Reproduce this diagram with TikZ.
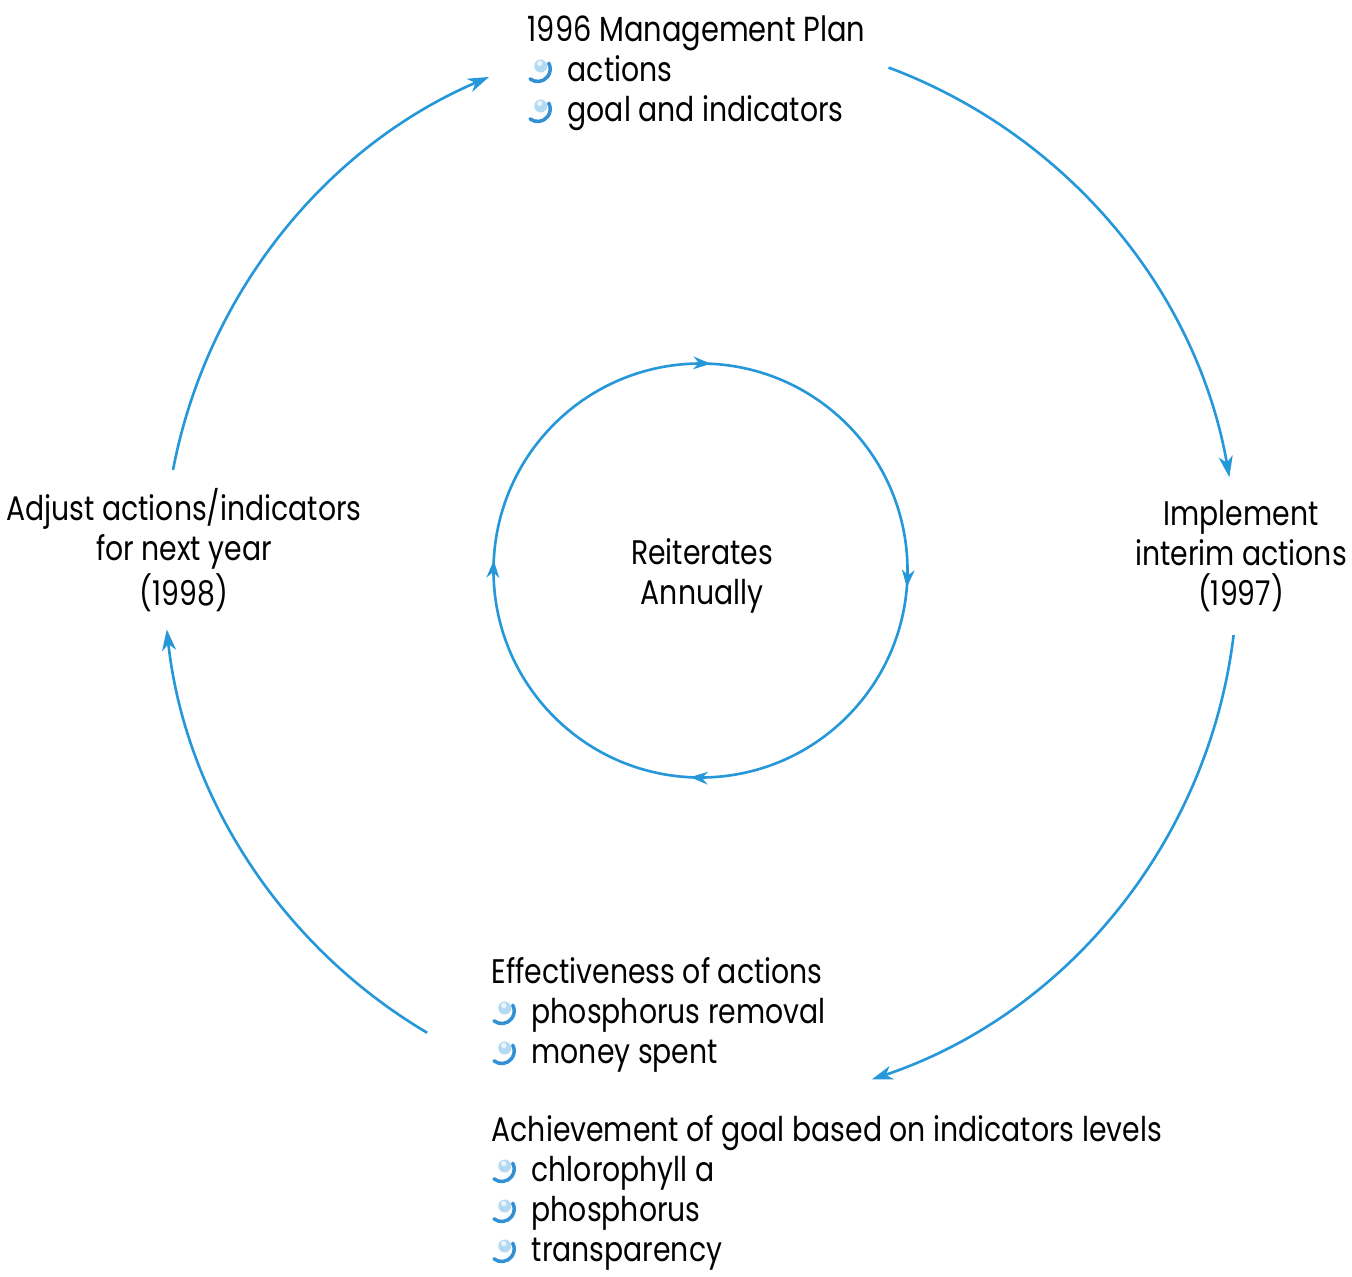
\documentclass[tikz,border=0pt]{standalone}
\usepackage{fontspec}
\setmainfont{Poppins}[FakeStretch=0.83]
\usetikzlibrary{arrows.meta,decorations.markings}
\definecolor{cyc}{RGB}{38,152,218}
\definecolor{ballfill}{RGB}{180,218,242}
\definecolor{ballrim}{RGB}{50,145,212}
% small shaded-ball bullet used in the lists
\newcommand\ballbullet{\tikz[baseline=0pt,x=1cm,y=1cm]{%
  \useasboundingbox (0,0) rectangle (0.40,0.2);
  \fill[ballfill] (0.13,0.15) circle (0.065);
  \fill[white,opacity=0.7] (0.12,0.175) circle (0.027);
  \draw[ballrim,line width=1pt,line cap=round] (0.10,0.12) ++(232:0.125) arc[start angle=232,end angle=388,radius=0.125];}}
\tikzset{
  ringtip/.tip={Stealth[length=5pt,width=3.6pt,inset=1.6pt]},
  txt/.style={inner sep=0pt,font=\fontsize{9.7}{11.38}\selectfont},
  flow/.style={cyc,line width=0.75pt,-{Stealth[length=6pt,width=4pt,inset=1.8pt]}},
  ring/.style={cyc,line width=0.75pt,postaction={decorate},
    decoration={markings,
      mark=at position 0.133 with {\arrow{ringtip}},
      mark=at position 0.388 with {\arrow{ringtip}},
      mark=at position 0.633 with {\arrow{ringtip}},
      mark=at position 0.883 with {\arrow{ringtip}}}}
}
\begin{document}
\begin{tikzpicture}[x=1cm,y=1cm]
\useasboundingbox (0,0) rectangle (13.52,-12.76);
\coordinate (C) at (7.005,-5.705);

% text blocks (each placed by the baseline of its last line)
\node[txt,anchor=base west,align=left] (plan) at (5.27,-1.21)
  {{\fontsize{9.9}{11.38}\selectfont 1996 Management Plan}\\ \ballbullet actions\\ \ballbullet goal and indicators};
\node[txt,anchor=base,align=center] (adjust) at (1.84,-6.05)
  {Adjust actions/indicators\\ for next year\\ (1998)};
\node[txt,anchor=base,align=center] (impl) at (12.41,-6.05)
  {Implement\\ interim actions\\ (1997)};
\node[txt,anchor=base,align=center] (reit) at (7.02,-6.04)
  {Reiterates\\ Annually};
\node[txt,anchor=base west,align=left] (eff) at (4.91,-10.63)
  {Effectiveness of actions\\ \ballbullet phosphorus removal\\ \ballbullet money spent};
\node[txt,anchor=base west,align=left] (ach) at (4.91,-12.61)
  {Achievement of goal based on indicators levels\\ \ballbullet chlorophyll a\\ \ballbullet phosphorus\\ \ballbullet transparency};

% end points of the outer cycle
\def\R{5.37}
\coordinate (p1) at ([shift={(69.5:\R)}]C);
\coordinate (p3) at ([shift={(-6.9:\R)}]C);
\coordinate (p5) at ([shift={(239.4:\R)}]C);
\coordinate (p7) at ([shift={(169.2:\R)}]C);

% outer yearly cycle: plan -> implement -> evaluate -> adjust -> plan
\draw[flow] (p1) arc[start angle=69.5,end angle=10.0,radius=\R];
\draw[flow] (p3) arc[start angle=-6.9,end angle=-71.4,radius=\R];
\draw[flow] (p5) arc[start angle=239.4,end angle=186.3,radius=\R];
\draw[flow] (p7) arc[start angle=169.2,end angle=113.2,radius=\R];

% inner annual loop, clockwise
\coordinate (r0) at ([shift={(135:2.07)}]C);
\draw[ring] (r0) arc[start angle=135,end angle=-225,radius=2.07];
\end{tikzpicture}
\end{document}
